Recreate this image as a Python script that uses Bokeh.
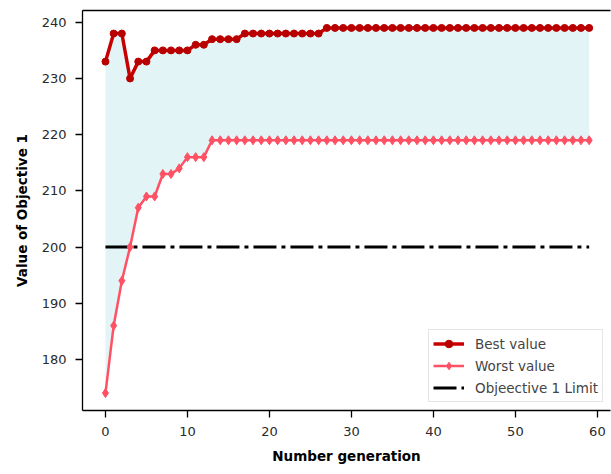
from bokeh.plotting import figure
from bokeh.models import Range1d, LinearAxis, Legend, LegendItem, ColumnDataSource, FixedTicker
from bokeh.embed import file_html
from bokeh.resources import INLINE

generations = list(range(60))
best_values = [233, 238, 238, 230, 233, 233, 235, 235, 235, 235,
               235, 236, 236, 237, 237, 237, 237, 238, 238, 238,
               238, 238, 238, 238, 238, 238, 238] + [239] * 33
worst_values = [174, 186, 194, 200, 207, 209, 209, 213, 213, 214,
                216, 216, 216] + [219] * 47
limit_x = [0, 59]
limit_value = 200
x_ticks = [0, 10, 20, 30, 40, 50, 60]
y_ticks = [180, 190, 200, 210, 220, 230, 240]

BEST = "#c80000"
WORST = "#ff5064"

src = ColumnDataSource(dict(x=generations, best=best_values, worst=worst_values))

p = figure(width=611, height=474, output_backend="svg", toolbar_location=None,
           x_range=Range1d(-2.8, 61.6), y_range=Range1d(170.9, 242.1),
           min_border_left=82, min_border_right=1, min_border_top=10, min_border_bottom=64,
           x_axis_label="Number generation", y_axis_label="Value of Objective 1")
p.outline_line_color = None
p.xgrid.visible = False
p.ygrid.visible = False
p.background_fill_color = "white"
p.border_fill_color = "white"

p.varea(x="x", y1="worst", y2="best", source=src, fill_color="#b0e0e6", fill_alpha=0.35)

lim = p.line(x=limit_x, y=[limit_value] * len(limit_x), line_color="black", line_width=3,
             line_dash="23 5 4 5")

b_line = p.line("x", "best", source=src, line_color=BEST, line_width=3.5)
b_pts = p.scatter("x", "best", source=src, marker="circle", size=7,
                  fill_color="#b80000", line_color="#b80000")
w_line = p.line("x", "worst", source=src, line_color=WORST, line_width=2.5)
w_pts = p.scatter("x", "worst", source=src, marker="diamond", size=9,
                  fill_color=WORST, line_color=WORST)

for ax in p.xaxis + p.yaxis:
    ax.axis_line_color = "black"
    ax.axis_line_width = 1.3
    ax.major_tick_line_color = "black"
    ax.major_tick_line_width = 1.3
    ax.major_tick_out = 7
    ax.major_tick_in = 0
    ax.minor_tick_line_color = None
    ax.major_label_text_font = "DejaVu Sans"
    ax.major_label_text_font_size = "13px"
    ax.major_label_text_color = "#2a2a2a"
    ax.axis_label_text_font = "DejaVu Sans"
    ax.axis_label_text_font_style = "bold"
    ax.axis_label_text_font_size = "13.5px"
    ax.axis_label_text_color = "black"
    ax.major_label_standoff = 9
    ax.axis_label_standoff = 9

p.xaxis.ticker = FixedTicker(ticks=x_ticks)
p.yaxis.ticker = FixedTicker(ticks=y_ticks)

top = LinearAxis(ticker=FixedTicker(ticks=[]), major_tick_line_color=None,
                 minor_tick_line_color=None, major_label_standoff=0,
                 major_tick_out=0, axis_line_color="black", axis_line_width=1.3)
p.add_layout(top, "above")

legend = Legend(items=[
    LegendItem(label="Best value", renderers=[b_line, b_pts]),
    LegendItem(label="Worst value", renderers=[w_line, w_pts]),
    LegendItem(label="Objeective 1 Limit", renderers=[lim]),
], location=(346, 8), margin=0, padding=4, spacing=3,
    label_height=19, glyph_height=19, glyph_width=31, label_standoff=11,
    label_text_font="DejaVu Sans", label_text_font_size="13.5px",
    border_line_color="#cccccc", border_line_width=1,
    background_fill_color="white", background_fill_alpha=0.85)
p.add_layout(legend, "center")

open("out.html", "w").write(file_html(p, INLINE))
